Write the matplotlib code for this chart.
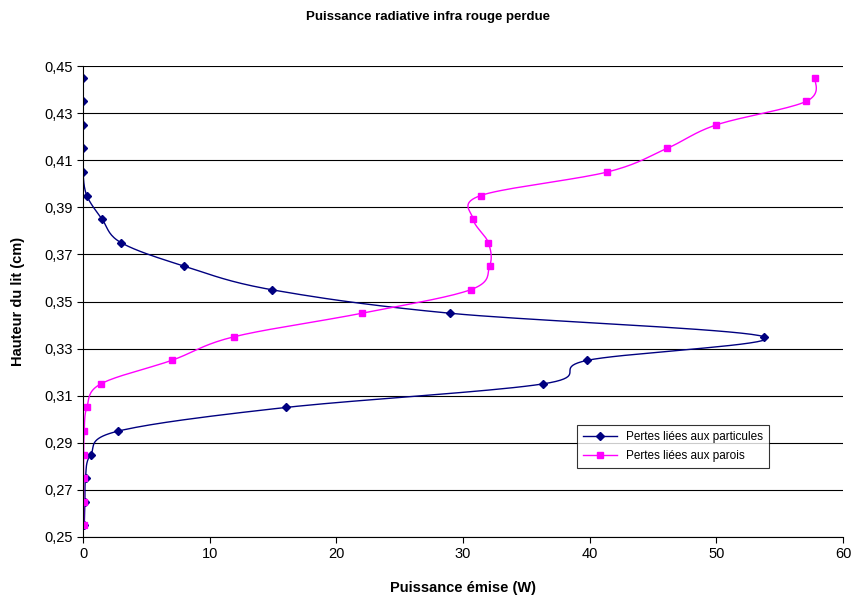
import matplotlib.pyplot as plt
import numpy as np

plt.rcParams['font.family'] = ['Liberation Sans', 'DejaVu Sans']

# bed height (cm)
hauteur = [0.445, 0.435, 0.425, 0.415, 0.405, 0.395, 0.385, 0.375, 0.365, 0.355,
           0.345, 0.335, 0.325, 0.315, 0.305, 0.295, 0.285, 0.275, 0.265, 0.255]
# emitted power (W)
particules = [0.0, 0.0, 0.0, 0.0, 0.0, 0.3, 1.5, 3.0, 8.0, 14.9,
              29.0, 53.8, 39.8, 36.3, 16.0, 2.8, 0.6, 0.2, 0.15, 0.1]
parois = [57.8, 57.1, 50.0, 46.1, 41.4, 31.4, 30.8, 32.0, 32.1, 30.6,
          22.0, 11.9, 7.0, 1.4, 0.3, 0.1, 0.05, 0.05, 0.05, 0.05]


def smooth(x, y, n=20):
    # Catmull-Rom through the points (like Excel's smoothed line)
    x = np.asarray(x, float)
    y = np.asarray(y, float)
    px = np.concatenate([[x[0]], x, [x[-1]]])
    py = np.concatenate([[y[0]], y, [y[-1]]])
    t = np.linspace(0, 1, n)[:, None]
    xs, ys = [], []
    for i in range(1, len(px) - 2):
        p0, p1, p2, p3 = px[i - 1], px[i], px[i + 1], px[i + 2]
        q0, q1, q2, q3 = py[i - 1], py[i], py[i + 1], py[i + 2]
        b1x, b1y = p1 + (p2 - p0) / 6, q1 + (q2 - q0) / 6
        b2x, b2y = p2 - (p3 - p1) / 6, q2 - (q3 - q1) / 6
        xx = (1 - t) ** 3 * p1 + 3 * (1 - t) ** 2 * t * b1x + 3 * (1 - t) * t ** 2 * b2x + t ** 3 * p2
        yy = (1 - t) ** 3 * q1 + 3 * (1 - t) ** 2 * t * b1y + 3 * (1 - t) * t ** 2 * b2y + t ** 3 * q2
        xs.append(xx.ravel())
        ys.append(yy.ravel())
    return np.concatenate(xs), np.concatenate(ys)


fig = plt.figure(figsize=(8.55, 6.03), dpi=100)
ax = fig.add_axes([83 / 855, 1 - 537 / 603, 760 / 855, 471 / 603])

sx, sy = smooth(particules, hauteur)
ax.plot(sx, sy, color='#000080', lw=1)
ax.plot(particules, hauteur, ls='none', marker='D', ms=4, color='#000080')
sx, sy = smooth(parois, hauteur)
ax.plot(sx, sy, color='#FF00FF', lw=1)
ax.plot(parois, hauteur, ls='none', marker='s', ms=5, color='#FF00FF')

# legend proxies
ax.plot([], [], color='#000080', marker='D', ms=4, lw=1, label='Pertes liées aux particules')
ax.plot([], [], color='#FF00FF', marker='s', ms=5, lw=1, label='Pertes liées aux parois')
handles, labels = ax.get_legend_handles_labels()
leg = ax.legend(handles, labels, loc='upper left', bbox_to_anchor=((577 - 83) / 760, (537 - 425) / 471),
                fontsize=8.5, frameon=True, fancybox=False, edgecolor='black',
                borderpad=0.55, handlelength=2.8, labelspacing=0.55, borderaxespad=0)
leg.get_frame().set_linewidth(0.8)

ax.set_xlim(0, 60)
ax.set_ylim(0.25, 0.45)
ax.set_xticks(np.arange(0, 61, 10))
yt = np.arange(0.25, 0.4501, 0.02)
ax.set_yticks(yt)
ax.set_yticklabels([f'{v:.2f}'.replace('.', ',') for v in yt])
ax.tick_params(labelsize=10.5, direction='out', length=4)
ax.yaxis.grid(True, color='black', lw=0.8)
ax.set_axisbelow(True)
for s in ['top', 'right']:
    ax.spines[s].set_visible(False)

ax.set_xlabel('Puissance émise (W)', fontsize=10.5, fontweight='bold', labelpad=14)
ax.set_ylabel('Hauteur du lit (cm)', fontsize=10.5, fontweight='bold', labelpad=14)
fig.suptitle('Puissance radiative infra rouge perdue', fontsize=9.5, fontweight='bold', y=0.982)

fig.savefig('out.png', dpi=100)
